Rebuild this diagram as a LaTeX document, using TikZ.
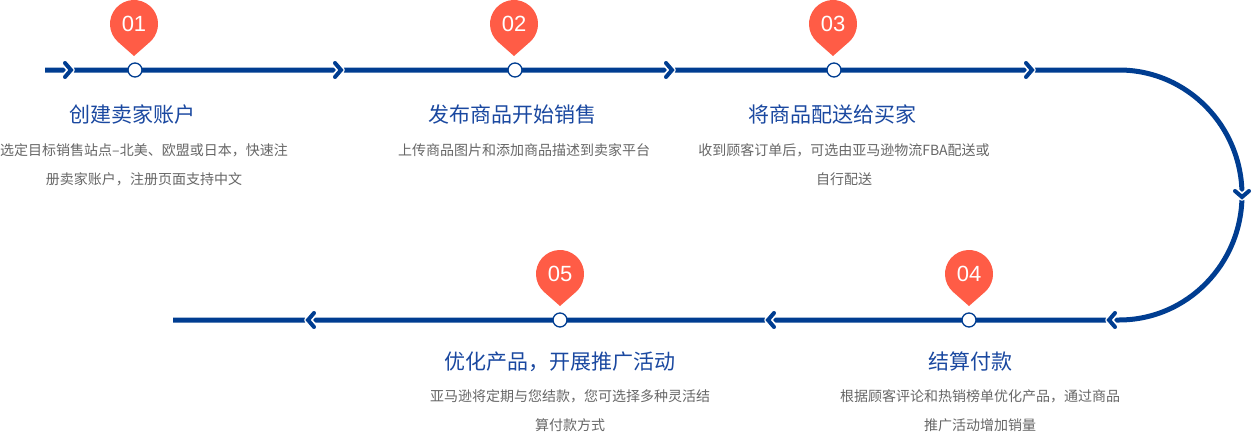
\documentclass[tikz,border=0pt]{standalone}
\usepackage{fontspec}
\newfontfamily\cjk{Noto Sans CJK SC}
\newfontfamily\digits{Liberation Sans}
\usetikzlibrary{positioning}
\definecolor{trackblue}{RGB}{0,61,145}
\definecolor{titleblue}{RGB}{26,72,160}
\definecolor{pinred}{RGB}{255,92,70}
\definecolor{textgray}{RGB}{102,102,102}
\tikzset{
  track/.style={draw=trackblue, line width=5pt},
  stop/.style={circle, draw=trackblue, fill=white, line width=1.3pt, inner sep=0pt, minimum size=14pt},
  num/.style={text=white, font=\digits\fontsize{22}{22}\selectfont, inner sep=0pt},
  title/.style={text=titleblue, font=\cjk\fontsize{21}{25}\selectfont, inner sep=0pt, anchor=base},
  desc/.style={text=textgray, font=\cjk\fontsize{14}{29}\selectfont, inner sep=0pt, align=center, anchor=base},
  chevron/.pic={
    \draw[white, line width=7.5pt, line cap=round, line join=round] (-6,-7) -- (0,0) -- (-6,7);
    \draw[trackblue, line width=4pt, line cap=round] (-6,-7) -- (0,0) -- (-6,7);
  },
  marker/.pic={
    \fill[pinred] (0,32) -- (131.4:24) arc[start angle=131.4, end angle=408.6, radius=24] -- cycle;
  }
}
\begin{document}
\begin{tikzpicture}[x=1pt,y=-1pt]
				\useasboundingbox (0,0) rectangle (1255,431);
				\coordinate (t0) at (45,70);
				\coordinate (t1) at (1119,70);
				\coordinate (b1) at (1119,320);
				\coordinate (b0) at (173,320);
				\draw[track] (t0) -- (t1) arc[start angle=-90, end angle=90, x radius=123, y radius=125] -- (b0);
				\pic at (71,70) {chevron};
				\pic at (341,70) {chevron};
				\pic at (672,70) {chevron};
				\pic at (1032,70) {chevron};
				\pic[rotate=-90] at (1242,197) {chevron};
				\pic[rotate=180] at (1109,320) {chevron};
				\pic[rotate=180] at (768,320) {chevron};
				\pic[rotate=180] at (308,320) {chevron};
				\node[stop] (s1) at (135,70) {};
				\node[stop] (s2) at (515,70) {};
				\node[stop] (s3) at (834,70) {};
				\node[stop] (s4) at (969,320) {};
				\node[stop] (s5) at (560,320) {};
				\pic at (134,24) {marker};
				\pic at (514,24) {marker};
				\pic at (833,24) {marker};
				\pic at (969,274) {marker};
				\pic at (560,274) {marker};
				\node[num] (n1) at (134,24) {01};
				\node[num] (n2) at (514,24) {02};
				\node[num] (n3) at (833,24) {03};
				\node[num] (n4) at (969,274) {04};
				\node[num] (n5) at (560,274) {05};
				\node[title] (h1) at (132,122) {创建卖家账户};
				\node[title] (h2) at (512,122) {发布商品开始销售};
				\node[title] (h3) at (832,122) {将商品配送给买家};
				\node[title] (h4) at (970,369) {结算付款};
				\node[title] (h5) at (560,369) {优化产品，开展推广活动};
				% base of a two-line desc sits on its second line
				\node[desc] (d1) at (144,184) {选定目标销售站点–北美、欧盟或日本，快速注\\册卖家账户，注册页面支持中文};
				\node[desc] (d2) at (524,155) {上传商品图片和添加商品描述到卖家平台};
				\node[desc] (d3) at (844,184) {收到顾客订单后，可选由亚马逊物流FBA配送或\\自行配送};
				\node[desc] (d4) at (980,430) {根据顾客评论和热销榜单优化产品，通过商品\\推广活动增加销量};
				\node[desc] (d5) at (570,430) {亚马逊将定期与您结款，您可选择多种灵活结\\算付款方式};
	\end{tikzpicture}
\end{document}
